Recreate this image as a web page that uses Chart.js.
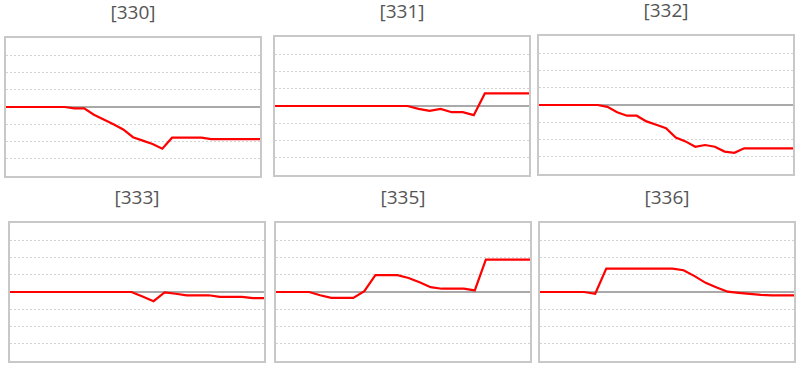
<!DOCTYPE html>
<html>
<head>
<meta charset="utf-8">
<script src="https://cdn.jsdelivr.net/npm/chart.js@4"></script>
<style>
    body { margin: 0; background: #fff; width: 800px; height: 368px; position: relative; overflow: hidden; }
    .panel { position: absolute; width: 258px; }
    .title { position: absolute; left: 0; width: 258px; top: -24px; text-align: center; font: 19px "Open Sans", sans-serif; color: #555; line-height: 1; transform: translateY(-50%); }
    .box { position: absolute; left: 0; top: 0; width: 254px; height: 138px; border: 2px solid #c8c8c8; }
    canvas { display: block; }
</style>
</head>
<body>

<script>
// Panel titles and series (index on x, value on y)
const titles = ['[330]', '[331]', '[332]', '[333]', '[335]', '[336]'];

const s330 = [0, 0, 0, 0, 0, 0, 0, -0.08, -0.08, -0.45, -0.72, -1.0, -1.3, -1.75, -1.95, -2.15, -2.42, -1.78, -1.78, -1.78, -1.78, -1.86, -1.86, -1.86, -1.86, -1.86, -1.86];
const s331 = [0, 0, 0, 0, 0, 0, 0, 0, 0, 0, 0, 0, 0, -0.17, -0.28, -0.17, -0.36, -0.36, -0.53, 0.73, 0.73, 0.73, 0.73, 0.73];
const s332 = [0, 0, 0, 0, 0, 0, 0, -0.11, -0.42, -0.62, -0.62, -0.95, -1.15, -1.34, -1.89, -2.11, -2.42, -2.32, -2.42, -2.70, -2.77, -2.51, -2.51, -2.51, -2.51, -2.51, -2.51];
const s333 = [0, 0, 0, 0, 0, 0, 0, 0, 0, 0, 0, 0, -0.26, -0.53, -0.02, -0.1, -0.19, -0.19, -0.19, -0.28, -0.28, -0.28, -0.36, -0.36];
const s335 = [0, 0, 0, 0, -0.19, -0.34, -0.34, -0.34, 0.05, 0.98, 0.98, 0.98, 0.81, 0.57, 0.28, 0.19, 0.19, 0.19, 0.09, 1.88, 1.88, 1.88, 1.88, 1.88];
const s336 = [0, 0, 0, 0, 0, -0.1, 1.36, 1.36, 1.36, 1.36, 1.36, 1.36, 1.36, 1.26, 0.92, 0.53, 0.26, 0.02, -0.05, -0.11, -0.17, -0.19, -0.19, -0.19];

const yMin = -4, yMax = 4, yStep = 1;

const series = [s330, s331, s332, s333, s335, s336];
// box positions (outer border, px)
const spots = [[4, 36], [273, 35], [537, 34], [8, 221], [274, 221], [538, 221]];

// solid zero line under the data
const zeroLine = {
    id: 'zeroLine',
    beforeDatasetsDraw(chart) {
        const y = chart.scales.y.getPixelForValue(0);
        const a = chart.chartArea;
        const c = chart.ctx;
        c.save();
        c.strokeStyle = '#8c8c8c';
        c.lineWidth = 1.5;
        c.beginPath();
        c.moveTo(a.left, y);
        c.lineTo(a.right, y);
        c.stroke();
        c.restore();
    }
};

series.forEach((data, i) => {
    const panel = document.createElement('div');
    panel.className = 'panel';
    panel.style.left = spots[i][0] + 'px';
    panel.style.top = spots[i][1] + 'px';
    panel.innerHTML = `<div class="title">${titles[i]}</div><div class="box"><canvas width="254" height="138"></canvas></div>`;
    document.body.appendChild(panel);

    new Chart(panel.querySelector('canvas'), {
        type: 'line',
        data: {
            labels: data.map((v, k) => k),
            datasets: [{
                data: data,
                borderColor: '#ff0000',
                borderWidth: 2.2,
                pointRadius: 0,
                tension: 0,
                fill: false
            }]
        },
        options: {
            responsive: false,
            animation: false,
            layout: { padding: 0 },
            plugins: { legend: { display: false }, tooltip: { enabled: false } },
            scales: {
                x: { display: false },
                y: {
                    min: yMin,
                    max: yMax,
                    ticks: { display: false, stepSize: yStep },
                    grid: {
                        drawTicks: false,
                        lineWidth: 1,
                        color: ctx => (ctx.tick && (ctx.tick.value === 0 || ctx.tick.value === yMin || ctx.tick.value === yMax)) ? 'rgba(0,0,0,0)' : '#d2d2d2'
                    },
                    border: { display: false, dash: [2, 2] }
                }
            }
        },
        plugins: [zeroLine]
    });
});
</script>
</body>
</html>
